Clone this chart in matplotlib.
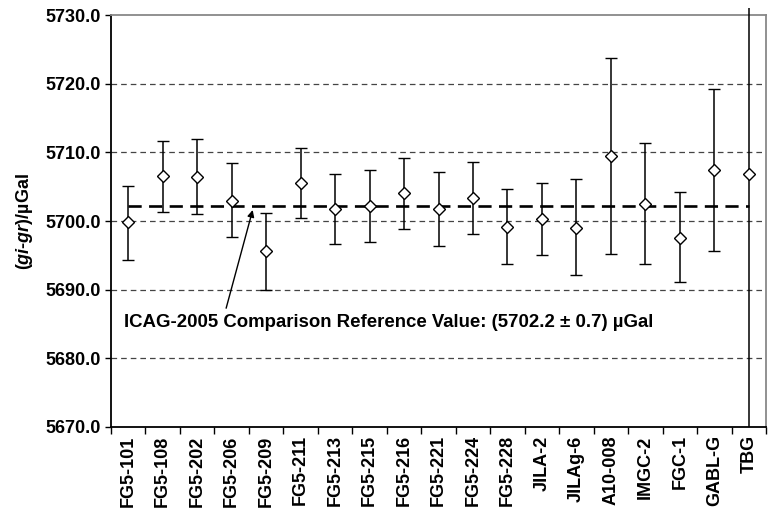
import matplotlib.pyplot as plt
import numpy as np

plt.rcParams['font.family'] = ['Liberation Sans', 'DejaVu Sans']
plt.rcParams['mathtext.fontset'] = 'custom'
plt.rcParams['mathtext.rm'] = 'Liberation Sans:bold'
plt.rcParams['mathtext.it'] = 'Liberation Sans:bold:italic'
plt.rcParams['mathtext.bf'] = 'Liberation Sans:bold'

# gravimeters and their (gi-gr) values
names = ['FG5-101', 'FG5-108', 'FG5-202', 'FG5-206', 'FG5-209', 'FG5-211',
         'FG5-213', 'FG5-215', 'FG5-216', 'FG5-221', 'FG5-224', 'FG5-228',
         'JILA-2', 'JILAg-6', 'A10-008', 'IMGC-2', 'FGC-1', 'GABL-G', 'TBG']
values = [5699.8, 5706.5, 5706.4, 5702.9, 5695.6, 5705.6,
          5701.7, 5702.2, 5704.1, 5701.7, 5703.4, 5699.1,
          5700.3, 5699.0, 5709.4, 5702.5, 5697.5, 5707.4, 5706.8]
err_low = [5.5, 5.2, 5.4, 5.3, 5.6, 5.2,
           5.1, 5.2, 5.3, 5.4, 5.3, 5.3,
           5.2, 6.9, 14.2, 8.8, 6.4, 11.8, 36.8]
err_high = [5.3, 5.2, 5.5, 5.5, 5.6, 5.1,
            5.2, 5.2, 5.1, 5.4, 5.2, 5.5,
            5.2, 7.1, 14.3, 8.8, 6.7, 11.8, 24.2]
ref_value = 5702.2
yticks = [5670, 5680, 5690, 5700, 5710, 5720, 5730]

x = np.arange(len(names))

fig = plt.figure(figsize=(7.68, 5.11), dpi=100)
ax = fig.add_axes([0.1445, 0.1644, 0.853, 0.8062])

# horizontal dashed grid
for yv in yticks[1:-1]:
    ax.axhline(yv, color='#444444', lw=0.9, dashes=(4.5, 3.2), zorder=1)

# reference value line
ax.plot([x[0], x[-1]], [ref_value, ref_value], color='black', lw=1.9,
        dashes=(5, 2.8), zorder=2)

n = len(names) - 1
ax.errorbar(x[:n], values[:n], yerr=[err_low[:n], err_high[:n]], fmt='D',
            ms=6, mfc='white', mec='black', mew=1.0, ecolor='black',
            elinewidth=1.1, capsize=4, capthick=1.1, zorder=3)
# TBG has a huge uncertainty, bar runs past the frame
eb = ax.errorbar(x[n:], values[n:], yerr=[err_low[n:], err_high[n:]], fmt='D',
                 ms=6, mfc='white', mec='black', mew=1.0, ecolor='black',
                 elinewidth=1.1, capsize=0, zorder=3)
for art in eb.lines[2]:
    art.set_clip_on(False)

ax.set_xlim(-0.5, len(names) - 0.5)
ax.set_ylim(5670, 5730)
ax.set_yticks(yticks)
ax.set_yticklabels(['%.1f' % v for v in yticks], fontsize=13, fontweight='bold')
ax.tick_params(axis='y', direction='out', length=4, width=1, pad=3)

# ticks between categories, labels at centres
ax.set_xticks(np.arange(len(names) + 1) - 0.5)
ax.set_xticklabels([])
ax.set_xticks(x, minor=True)
ax.set_xticklabels(names, minor=True, rotation=90, fontsize=13, fontweight='bold')
ax.tick_params(axis='x', which='major', direction='out', length=5, width=1)
ax.tick_params(axis='x', which='minor', length=0, pad=6)

ax.spines['left'].set_linewidth(1.3)
ax.spines['bottom'].set_linewidth(1.3)
ax.spines['top'].set_color('#888888')
ax.spines['right'].set_color('#888888')
ax.spines['top'].set_linewidth(1.3)
ax.spines['right'].set_linewidth(1.3)

ax.set_ylabel('($gi$-$gr$)/\u00b5Gal', fontsize=13, fontweight='bold', labelpad=8)

ax.text(-0.12, 5685.2, 'ICAG-2005 Comparison Reference Value: (5702.2 \u00b1 0.7) \u00b5Gal',
        fontsize=13.4, fontweight='bold', ha='left', va='center')
ax.annotate('', xy=(3.61, 5701.6), xytext=(2.84, 5687.3),
            arrowprops=dict(arrowstyle='-|>', color='black', lw=1.0,
                            mutation_scale=10, shrinkA=0, shrinkB=0))

fig.savefig('out.png', dpi=100)
